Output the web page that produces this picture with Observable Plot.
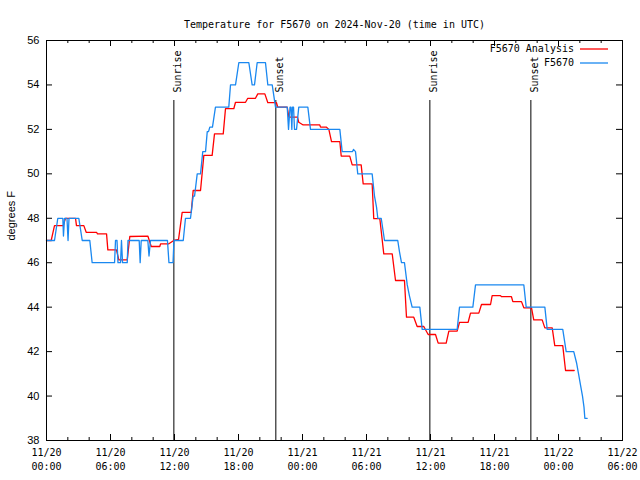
<!DOCTYPE html>
<html>
<head>
<meta charset="utf-8">
<script src="https://cdn.jsdelivr.net/npm/d3@7"></script>
<script src="https://cdn.jsdelivr.net/npm/@observablehq/plot@0.6"></script>
<style>
  html, body { margin: 0; padding: 0; background: #ffffff; }
  #chart { width: 640px; height: 480px; }
</style>
</head>
<body>
<div id="chart"></div>
<script>
// ---------- data ----------
const chartTitle = "Temperature for F5670 on 2024-Nov-20 (time in UTC)";
const yLabel = "degrees F";
const startTime = "2024-11-20T00:00:00Z";
const endTime = "2024-11-22T06:00:00Z";
const seriesNames = ["F5670 Analysis", "F5670"];

// observed station F5670 (hours after 11/20 00:00 UTC, degrees F)
const obsHours = [0, 0.75, 1.06, 1.53, 1.59, 1.69, 1.92, 2.02, 2.11, 3.03, 3.35, 4.06, 4.28, 6.38, 6.47, 6.61, 6.70, 6.94, 7.03, 7.13,
  7.57, 7.64, 8.69, 8.78, 8.88, 9.50, 9.61, 9.75, 11.34, 11.48, 11.86, 11.95, 12.82, 13.03, 13.50, 13.75, 13.88, 14.13, 14.44, 14.65,
  14.91, 15.07, 15.19, 15.31, 15.56, 15.84, 17.09, 17.25, 17.72, 18.03, 18.97, 19.28, 19.50, 19.75, 20.53, 20.75, 21.16, 21.47, 22.57, 22.69,
  22.83, 22.92, 23.00, 23.06, 23.16, 23.25, 23.44, 23.65, 24.50, 24.75, 27.50, 27.72, 28.69, 28.78, 28.97, 29.18, 30.53, 30.75, 30.94, 31.06,
  31.38, 31.69, 32.93, 33.09, 33.28, 33.56, 33.82, 34.03, 34.28, 35.00, 35.22, 38.50, 38.72, 39.97, 40.22, 44.75, 44.97, 46.72, 46.94, 48.40,
  48.72, 49.43, 49.69, 49.88, 50.06, 50.25, 50.39, 50.47, 50.69];
const obsTemps = [47, 47, 48, 48, 47.2, 48, 48, 47, 48, 48, 47, 47, 46, 46, 47, 47, 46, 46, 47, 46,
  46, 47, 47, 46, 47, 47, 46.3, 47, 47, 46, 46, 47, 47, 48, 48, 49, 49, 50, 50, 51,
  51, 51.9, 51.9, 52.1, 52.1, 53, 53, 54, 54, 55, 55, 54, 54, 55, 55, 54, 54, 53, 53, 52,
  53, 53, 52, 53, 53, 52, 52, 53, 53, 52, 52, 51, 51, 51.1, 51, 50, 50, 49, 48.5, 48,
  48, 47, 47, 46.5, 46, 46, 45, 44.5, 44, 44, 43, 43, 44, 44, 45, 45, 44, 44, 43, 43,
  42, 42, 41.5, 41, 40.5, 40, 39.5, 39, 39];

// analysis for F5670
const anaHours = [0, 0.44, 0.75, 1.57, 1.78, 2.72, 2.81, 3.50, 3.72, 4.69, 4.78, 5.63, 5.75, 6.56, 6.78, 7.57, 7.81, 9.50, 9.82, 10.62,
  10.69, 11.47, 11.93, 12.38, 12.72, 13.57, 13.75, 14.44, 14.75, 15.53, 15.75, 16.57, 16.78, 17.56, 17.72, 18.66, 18.87, 19.59, 19.81, 20.47,
  20.75, 21.56, 21.68, 22.57, 22.72, 23.53, 23.65, 24.06, 25.62, 25.69, 26.25, 26.47, 26.72, 27.50, 27.63, 28.43, 28.66, 29.50, 29.69, 30.53,
  30.68, 31.25, 31.62, 32.41, 32.72, 33.56, 33.75, 34.43, 34.75, 35.37, 35.78, 36.47, 36.72, 37.47, 37.72, 38.50, 38.72, 39.53, 39.75, 40.53,
  40.78, 41.63, 41.78, 42.56, 42.66, 43.59, 43.72, 44.53, 44.75, 45.47, 45.68, 46.47, 46.72, 47.41, 47.65, 48.40, 48.66, 49.47];
const anaTemps = [47, 47, 47.67, 47.67, 48, 48, 47.67, 47.67, 47.37, 47.37, 47.3, 47.3, 46.58, 46.58, 46.13, 46.13, 47.18, 47.2, 46.73, 46.73,
  46.85, 46.85, 47.0, 47.05, 48.27, 48.27, 49.25, 49.25, 50.83, 50.83, 51.8, 51.8, 52.93, 52.93, 53.22, 53.22, 53.4, 53.4, 53.6, 53.6,
  53.2, 53.2, 53.0, 53.0, 52.55, 52.55, 52.32, 52.2, 52.2, 52.1, 52.1, 52.0, 51.45, 51.45, 50.8, 50.8, 50.4, 50.4, 49.55, 49.55,
  47.98, 47.98, 46.4, 46.4, 45.2, 45.2, 43.55, 43.55, 43.13, 43.13, 42.77, 42.77, 42.38, 42.38, 42.92, 42.92, 43.32, 43.32, 43.73, 43.73,
  44.12, 44.12, 44.52, 44.52, 44.47, 44.47, 44.25, 44.25, 43.97, 43.97, 43.43, 43.43, 43.07, 43.07, 42.27, 42.27, 41.15, 41.15];

// sun events (hours after start)
const sunHours = [11.94, 21.5, 35.94, 45.41];
const sunLabels = ["Sunrise", "Sunset", "Sunrise", "Sunset"];

const yTicks = [38, 40, 42, 44, 46, 48, 50, 52, 54, 56];
const majorTickHours = 6;
const minorTickHours = 2;

// ---------- build ----------
const t0 = new Date(startTime).getTime();
const toDate = h => new Date(t0 + h * 3600e3);
const obs = obsHours.map((h, i) => ({time: toDate(h), temp: obsTemps[i]}));
const ana = anaHours.map((h, i) => ({time: toDate(h), temp: anaTemps[i]}));
const sun = sunHours.map((h, i) => ({time: toDate(h), label: sunLabels[i]}));

const xDomain = [new Date(startTime), new Date(endTime)];
const majorTicks = d3.utcHour.every(majorTickHours).range(xDomain[0], new Date(xDomain[1].getTime() + 1));
const minorTicks = d3.utcHour.every(minorTickHours).range(xDomain[0], new Date(xDomain[1].getTime() + 1));

const mono = "'DejaVu Sans Mono', 'Liberation Mono', monospace";
const sans = "'Liberation Sans', Arial, sans-serif";
const red = "#ff0000";
const blue = "#1a88f0";

const W = 640, H = 480, mL = 46, mR = 18, mT = 40, mB = 40;
const fw = W - mL - mR, fh = H - mT - mB;
const majLen = 6, minLen = 3;
const fmt = d3.utcFormat("%m/%d\n%H:%M");

const chart = Plot.plot({
  width: W, height: H,
  marginLeft: mL, marginRight: mR, marginTop: mT, marginBottom: mB,
  style: {fontFamily: mono, fontSize: "10px", background: "#ffffff", color: "#000000", overflow: "visible"},
  x: {type: "utc", domain: xDomain},
  y: {domain: [38, 56]},
  marks: [
    Plot.ruleX(sun, {x: "time", stroke: "#000000", strokeWidth: 1, insetTop: 60}),
    Plot.text(sun, {x: "time", text: "label", frameAnchor: "top", dy: 52, rotate: -90, textAnchor: "start",
      fontFamily: mono, fontSize: 10, fill: "#000000"}),
    Plot.line(ana, {x: "time", y: "temp", stroke: red, strokeWidth: 1.3}),
    Plot.line(obs, {x: "time", y: "temp", stroke: blue, strokeWidth: 1.3}),
    Plot.frame({stroke: "#000000", strokeWidth: 1}),
    // inward ticks, mirrored on all sides
    Plot.ruleX(minorTicks, {x: d => d, insetTop: fh - minLen, stroke: "#000"}),
    Plot.ruleX(minorTicks, {x: d => d, insetBottom: fh - minLen, stroke: "#000"}),
    Plot.ruleX(majorTicks, {x: d => d, insetTop: fh - majLen, stroke: "#000"}),
    Plot.ruleX(majorTicks, {x: d => d, insetBottom: fh - majLen, stroke: "#000"}),
    Plot.ruleY(yTicks, {y: d => d, insetRight: fw - majLen, stroke: "#000"}),
    Plot.ruleY(yTicks, {y: d => d, insetLeft: fw - majLen, stroke: "#000"}),
    Plot.axisX({ticks: majorTicks, tickSize: 0, tickPadding: 6, tickFormat: fmt, label: null,
      fontFamily: mono, fontSize: 10, lineHeight: 1.4}),
    Plot.axisY({ticks: yTicks, tickSize: 0, tickPadding: 7, label: null, fontFamily: sans, fontSize: 11}),
    Plot.text([yLabel], {frameAnchor: "left", dx: -35, rotate: -90, fontFamily: sans, fontSize: 11, fill: "#000"}),
    Plot.text([chartTitle], {frameAnchor: "top", dy: -20, fontFamily: mono, fontSize: 10, fill: "#000"})
  ]
});

// legend (top-right, inside the frame)
const svg = d3.select(chart);
const lg = svg.append("g").attr("font-family", mono).attr("font-size", 10);
const legendColors = [red, blue];
seriesNames.forEach((name, i) => {
  const y = mT + 9 + i * 14;
  lg.append("text").attr("x", W - mR - 48).attr("y", y).attr("dy", "0.32em")
    .attr("text-anchor", "end").attr("fill", "#000").text(name);
  lg.append("line").attr("x1", W - mR - 42).attr("x2", W - mR - 14)
    .attr("y1", y).attr("y2", y).attr("stroke", legendColors[i]).attr("stroke-width", 1.3);
});

document.getElementById("chart").appendChild(chart);
</script>
</body>
</html>
